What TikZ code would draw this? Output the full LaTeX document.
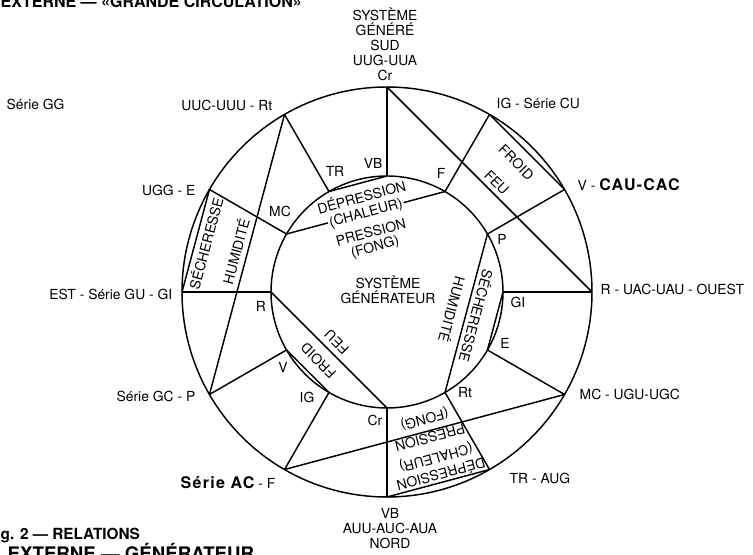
\documentclass[tikz,border=0pt]{standalone}
\usepackage{fontspec}
\setmainfont{TeX Gyre Heros}
\newcommand\grastag[1]{{\fontsize{12}{14}\selectfont\bfseries\addfontfeature{LetterSpace=8}#1}}
\tikzset{
  lbl/.style={font=\fontsize{10.4}{11.25}\selectfont, inner sep=0pt},
  cell/.style={lbl, inner sep=1pt},
  titre/.style={font=\fontsize{12}{14}\selectfont\bfseries, inner sep=0pt, anchor=base west},
}
\begin{document}
\begin{tikzpicture}[x=0.75pt, y=0.75pt, line width=1.1pt]
\useasboundingbox (-387,-263) rectangle (366,292);
% two rings and the twelve spokes
\draw (0,0) circle (205);
\draw (0,0) circle (116);
\foreach \a in {0,30,...,330} {
  \coordinate (o\a) at (\a:205);
  \coordinate (i\a) at (\a:116);
  \draw (o\a) -- (i\a);
}
% outer chords
\draw (o90) -- (o0);
\draw (o210) -- (o120);
\draw (o330) -- (o240);
\draw (o60) -- (o30);
\draw (o180) -- (o150);
\draw (o300) -- (o270);
% inner chords
\draw (i60) -- (i150);
\draw (i180) -- (i270);
\draw (i300) -- (i30);
\draw (i120) -- (i90);
\draw (i240) -- (i210);
\draw (i0) -- (i330);

% labels round the outer ring
\node[lbl, align=center, anchor=south] (sud) at (-2,211) {SYSTÈME\\GÉNÉRÉ\\SUD\\UUG-UUA\\Cr};
\node[lbl, anchor=west] (cu) at (109,189) {IG - Série CU};
\node[lbl, anchor=west] (cau) at (190,107) {V - \grastag{CAU-CAC}};
\node[lbl, anchor=west] (ouest) at (213,3) {R - UAC-UAU - OUEST};
\node[lbl, anchor=west] (ugc) at (192,-102) {MC - UGU-UGC};
\node[lbl, anchor=west] (aug) at (122,-186) {TR - AUG};
\node[lbl, align=center, anchor=north] (nord) at (3,-216) {VB\\AUU-AUC-AUA\\NORD};
\node[lbl, anchor=east] (ac) at (-111,-191) {\grastag{Série AC} - F};
\node[lbl, anchor=east] (gc) at (-191,-104) {Série GC - P};
\node[lbl, anchor=east] (est) at (-214,-2) {EST - Série GU - GI};
\node[lbl, anchor=east] (ugg) at (-191,102) {UGG - E};
\node[lbl, anchor=east] (uuc) at (-114,187) {UUC-UUU - Rt};
\node[lbl, anchor=west] (gg) at (-381,188) {Série GG};

% labels round the inner ring
\node[lbl] (vb) at (-14,129) {VB};
\node[lbl] (tr) at (-52,121) {TR};
\node[lbl] (f) at (54,119) {F};
\node[lbl] (p) at (115,53) {P};
\node[lbl] (gi) at (131,-10) {GI};
\node[lbl] (e) at (118,-51) {E};
\node[lbl] (rt) at (78,-100) {Rt};
\node[lbl] (cr) at (-12,-128) {Cr};
\node[lbl] (ig) at (-80,-105) {IG};
\node[lbl] (v) at (-104,-75) {V};
\node[lbl] (r) at (-126,-14) {R};
\node[lbl] (mc) at (-107,81) {MC};

\node[lbl, align=center] (gen) at (1,2) {SYSTÈME\\GÉNÉRATEUR};

% inner cells
\node[cell, rotate=15] (idep) at (105:99) {DÉPRESSION};
\node[cell, rotate=15, fill=white] (icha) at (105:81) {(CHALEUR)};
\node[cell, rotate=15] (ipre) at (105:62) {PRESSION};
\node[cell, rotate=15] (ifon) at (105:46) {(FONG)};
\node[cell, rotate=-105] (isec) at (-15:93) {SÉCHERESSE};
\node[cell, rotate=-105] (ihum) at (-15:68) {HUMIDITÉ};
\node[cell, rotate=135] (ifro) at (225:97) {FROID};
\node[cell, rotate=135] (ifeu) at (225:71) {FEU};

% outer cells
\node[cell, rotate=-45] (ofro) at (45:183) {FROID};
\node[cell, rotate=-45] (ofeu) at (45:155) {FEU};
\node[cell, rotate=75] (osec) at (165:188) {SÉCHERESSE};
\node[cell, rotate=75] (ohum) at (165:157) {HUMIDITÉ};
\node[cell, rotate=195] (odep) at (-73.5:191) {DÉPRESSION};
\node[cell, rotate=195] (ocha) at (-73.5:172) {(CHALEUR)};
\node[cell, rotate=195] (opre) at (-73.5:152) {PRESSION};
\node[cell, rotate=195] (ofon) at (-73.5:132) {(FONG)};

% titles, cut by the page edge
\node[titre] (haut) at (-387,284) {EXTERNE — «GRANDE CIRCULATION»};
\node[titre, font=\fontsize{11.5}{14}\selectfont\bfseries] (bas1) at (-387,-248) {g. 2 — RELATIONS};
\node[titre, font=\fontsize{14}{16}\selectfont\bfseries] (bas2) at (-380,-269) {EXTERNE — GÉNÉRATEUR};
\end{tikzpicture}
\end{document}
